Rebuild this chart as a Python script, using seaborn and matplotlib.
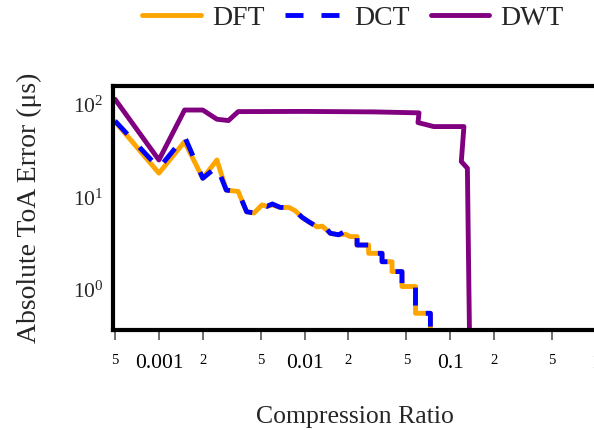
import matplotlib
matplotlib.use("Agg")
import matplotlib.pyplot as plt
import seaborn as sns
import numpy as np
import pandas as pd


# compression ratio / absolute ToA error (us)
dft_ratio = [5e-4, 1e-3, 1.5e-3, 2e-3, 2.5e-3, 2.9e-3, 3.5e-3, 4e-3, 4.5e-3,
             5.1e-3, 5.5e-3, 6e-3, 6.8e-3, 7.8e-3, 8.6e-3, 9.6e-3, 0.0106,
             0.0122, 0.0132, 0.015, 0.0171, 0.019, 0.0206, 0.0229, 0.0229,
             0.0275, 0.0275, 0.034, 0.034, 0.0398, 0.0398, 0.0466, 0.0466,
             0.0577, 0.0577, 0.073, 0.073]
dft_error = [66, 18.3, 40, 16.1, 25.4, 12.0, 11.6, 7.0, 6.8, 8.3, 8.0, 8.3,
             7.8, 7.8, 7.2, 6.1, 5.5, 4.8, 4.9, 4.1, 3.95, 4.0, 3.77, 3.77,
             3.06, 3.06, 2.49, 2.49, 2.02, 2.02, 1.58, 1.58, 1.09, 1.09, 0.56,
             0.56, 0.2]

dct_ratio = dft_ratio
dct_error = [67, 20.7, 45.4, 16.1, 21.5, 12.0, 11.6, 7.0, 6.8, 8.3, 8.0, 8.5,
             7.8, 7.8, 7.2, 6.1, 5.5, 4.8, 5.2, 4.1, 3.95, 4.3, 3.77, 3.77,
             3.06, 3.06, 2.49, 2.49, 2.02, 2.02, 1.58, 1.58, 1.09, 1.09, 0.56,
             0.56, 0.2]

dwt_ratio = [5e-4, 1e-3, 1.5e-3, 2e-3, 2.5e-3, 3e-3, 3.5e-3, 0.01, 0.03,
             0.061, 0.06, 0.077, 0.124, 0.119, 0.131, 0.134, 0.136]
dwt_error = [115, 25.4, 88, 88, 70, 67.7, 84.6, 85, 84, 82, 64.4, 58.3, 58.3,
             24.4, 20.7, 1.18, 0.2]

major_ticks = [1e-3, 1e-2, 1e-1, 1]
major_labels = ['0.001', '0.01', '0.1', '1']
minor_ticks = [5e-4, 2e-3, 5e-3, 2e-2, 5e-2, 2e-1, 5e-1]
minor_labels = ['5', '2', '5', '2', '5', '2', '5']

LW = 3.5


def configure_plot_style():
    sns.set_style('ticks')
    plt.rcParams['font.family'] = ['Liberation Serif', 'DejaVu Serif']
    plt.rcParams['mathtext.fontset'] = 'custom'
    plt.rcParams['mathtext.rm'] = 'Liberation Serif'
    plt.rcParams['mathtext.it'] = 'Liberation Serif:italic'
    plt.rcParams['mathtext.bf'] = 'Liberation Serif:bold'


configure_plot_style()

fig = plt.figure(figsize=(5.94, 4.30), dpi=100)
ax = fig.add_axes([113 / 594, 1 - 329.5 / 430, (596 - 113) / 594, (329.5 - 86) / 430])

series = [
    ('DFT', dft_ratio, dft_error, 'orange', '-'),
    ('DCT', dct_ratio, dct_error, 'blue', (0, (3.7, 3.7))),
    ('DWT', dwt_ratio, dwt_error, 'purple', '-'),
]
for name, xs, ys, color, ls in series:
    df = pd.DataFrame({'ratio': xs, 'error': ys})
    sns.lineplot(data=df, x='ratio', y='error', ax=ax, color=color,
                 linestyle=ls, linewidth=LW, label=name,
                 estimator=None, sort=False)

ax.set_xscale('log')
ax.set_yscale('log')
ax.set_xlim(4.84e-4, 1.0)
ax.set_ylim(0.374, 160)

ax.set_xticks(major_ticks, major_labels)
ax.set_xticks(minor_ticks, minor_labels, minor=True)
ax.tick_params(axis='x', which='both', length=7.5, width=1.2,
               color='#555555', pad=10.5, labelcolor='black')
ax.tick_params(axis='x', which='major', labelsize=15.5)
ax.tick_params(axis='x', which='minor', labelsize=10.5)

ax.set_yticks([1, 10, 100])
ax.tick_params(axis='y', which='major', length=0, pad=7, labelsize=15.5)
ax.tick_params(axis='y', which='minor', length=0)

for sp in ax.spines.values():
    sp.set_visible(True)
    sp.set_color('black')
    sp.set_linewidth(3)

ax.set_xlabel('Compression Ratio', fontsize=18.5)
ax.set_ylabel('Absolute ToA Error (\u03bcs)', fontsize=20)
ax.xaxis.set_label_coords(0.5, -0.315)
ax.yaxis.set_label_coords(-0.146, 0.5)

handles, labels = ax.get_legend_handles_labels()
ax.legend(handles, labels, loc='center', ncol=3, frameon=False,
          bbox_to_anchor=(353 / 594, 1 - 18 / 430),
          bbox_transform=fig.transFigure, fontsize=20,
          handlelength=2.1, handletextpad=0.4, columnspacing=0.75,
          borderaxespad=0)

fig.savefig('out.png', dpi=100)
